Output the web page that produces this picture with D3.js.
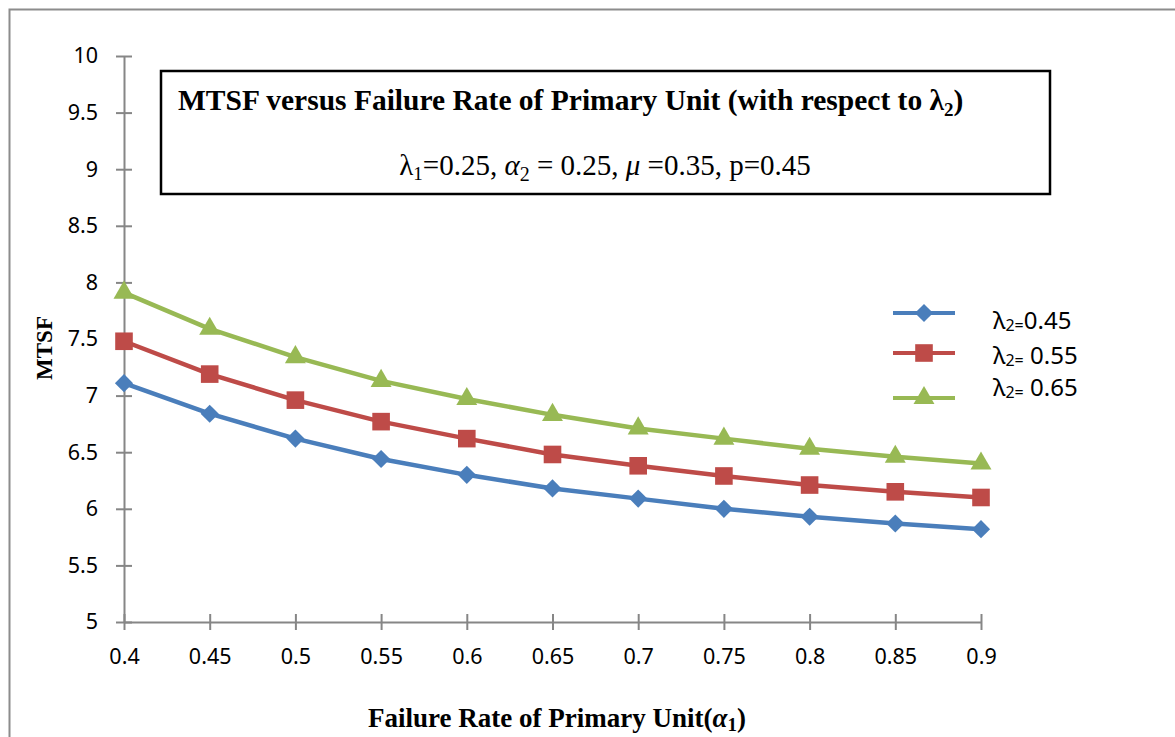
<!DOCTYPE html>
<html lang="en">
<head>
<meta charset="utf-8">
<title>MTSF versus Failure Rate</title>
<script src="https://cdn.jsdelivr.net/npm/d3@7"></script>
<style>
  body { margin: 0; background: #fff; }
  .tick text { font-family: "Noto Sans", "Open Sans", sans-serif; font-size: 21.5px; fill: #000; }
  .serif { font-family: "Liberation Serif", "Times New Roman", serif; }
</style>
</head>
<body>
<script>
// data
var alpha1 = [0.4, 0.45, 0.5, 0.55, 0.6, 0.65, 0.7, 0.75, 0.8, 0.85, 0.9];
var mtsf045 = [7.11, 6.84, 6.62, 6.44, 6.30, 6.18, 6.09, 6.00, 5.93, 5.87, 5.82];
var mtsf055 = [7.48, 7.19, 6.96, 6.77, 6.62, 6.48, 6.38, 6.29, 6.21, 6.15, 6.10];
var mtsf065 = [7.91, 7.59, 7.34, 7.13, 6.97, 6.83, 6.71, 6.62, 6.53, 6.46, 6.40];
var seriesNames = ["0.45", "0.55", "0.65"];
var yTicks = [5, 5.5, 6, 6.5, 7, 7.5, 8, 8.5, 9, 9.5, 10];

var w = 1175, h = 737;
var colors = ["#4A7EBB", "#BE4B48", "#98B954"];
var shapes = ["diamond", "square", "triangle"];
var series = [mtsf045, mtsf055, mtsf065];

var svg = d3.select("body").append("svg")
    .attr("width", w)
    .attr("height", h);

// outer chart frame (cut off at right and bottom)
svg.append("path")
    .attr("d", "M9.5," + (h + 2) + " V9.5 H" + (w + 2))
    .attr("fill", "none")
    .attr("stroke", "#8c8c8c")
    .attr("stroke-width", 2);

var xScale = d3.scaleLinear().domain([0.4, 0.9]).range([124, 981]);
var yScale = d3.scaleLinear().domain([5, 10]).range([622, 56]);

// axes, Excel style: ticks cross the line
var xAxis = svg.append("g")
    .attr("transform", "translate(0,622)")
    .call(d3.axisBottom(xScale).tickValues(alpha1).tickSizeInner(8).tickSizeOuter(0).tickPadding(19).tickFormat(d3.format("")));
xAxis.selectAll(".tick line").attr("y1", -8);

var yAxis = svg.append("g")
    .attr("transform", "translate(124,0)")
    .call(d3.axisLeft(yScale).tickValues(yTicks).tickSizeInner(8).tickSizeOuter(0).tickPadding(18).tickFormat(d3.format("")));
yAxis.selectAll(".tick line").attr("x1", 8);

svg.selectAll(".domain, .tick line").attr("stroke", "#868686").attr("stroke-width", 2);

// marker shapes
function symPath(shape) {
    if (shape === "diamond") return d3.symbol(d3.symbolSquare, 165)();
    if (shape === "square") return d3.symbol(d3.symbolSquare, 310)();
    return d3.symbol(d3.symbolTriangle, 190)();
}
function symRot(shape) { return shape === "diamond" ? " rotate(45)" : ""; }

var line = d3.line()
    .x(function (d, i) { return xScale(alpha1[i]); })
    .y(function (d) { return yScale(d); });

series.forEach(function (vals, k) {
    svg.append("path")
        .attr("d", line(vals))
        .attr("fill", "none")
        .attr("stroke", colors[k])
        .attr("stroke-width", 4.5)
        .attr("stroke-linejoin", "round");

    svg.selectAll(".m" + k)
        .data(vals)
        .enter()
        .append("path")
        .attr("class", "m" + k)
        .attr("d", symPath(shapes[k]))
        .attr("transform", function (d, i) {
            return "translate(" + xScale(alpha1[i]) + "," + yScale(d) + ")" + symRot(shapes[k]);
        })
        .attr("fill", colors[k]);
});

// legend
var legY = [313, 353, 398];
var legTextY = [319, 354, 386];
seriesNames.forEach(function (name, k) {
    svg.append("line")
        .attr("x1", 893).attr("x2", 955)
        .attr("y1", legY[k]).attr("y2", legY[k])
        .attr("stroke", colors[k]).attr("stroke-width", 4);
    svg.append("path")
        .attr("d", symPath(shapes[k]))
        .attr("transform", "translate(924," + legY[k] + ")" + symRot(shapes[k]))
        .attr("fill", colors[k]);
    var t = svg.append("text")
        .attr("x", 993).attr("y", legTextY[k])
        .attr("dominant-baseline", "central")
        .style("font-family", "\"Noto Sans\", sans-serif")
        .style("font-size", "24px");
    t.append("tspan").text("λ");
    t.append("tspan").attr("font-size", "16px").attr("dy", 6).text("2=");
    t.append("tspan").attr("dy", -6).text((k === 0 ? "" : " ") + name);
});

// title box
svg.append("rect")
    .attr("x", 161).attr("y", 71)
    .attr("width", 889).attr("height", 123)
    .attr("fill", "#fff")
    .attr("stroke", "#000")
    .attr("stroke-width", 2.5);

var title = svg.append("text")
    .attr("class", "serif")
    .attr("x", 178).attr("y", 110)
    .style("font-size", "29.5px")
    .style("font-weight", "bold");
title.append("tspan").text("MTSF versus Failure Rate of Primary Unit (with respect to λ");
title.append("tspan").attr("font-size", "19px").attr("dy", 6).text("2");
title.append("tspan").attr("dy", -6).text(")");

var sub = svg.append("text")
    .attr("class", "serif")
    .attr("x", 605).attr("y", 175)
    .attr("text-anchor", "middle")
    .style("font-size", "29px");
sub.append("tspan").text("λ");
sub.append("tspan").attr("font-size", "19px").attr("dy", 5).text("1");
sub.append("tspan").attr("dy", -5).text("=0.25, ");
sub.append("tspan").attr("font-style", "italic").text("α");
sub.append("tspan").attr("font-size", "20px").attr("dy", 6).text("2");
sub.append("tspan").attr("dy", -6).text(" = 0.25, ");
sub.append("tspan").attr("font-style", "italic").text("μ");
sub.append("tspan").text(" =0.35, p=0.45");

// axis titles
svg.append("text")
    .attr("class", "serif")
    .attr("transform", "translate(52,348) rotate(-90)")
    .attr("text-anchor", "middle")
    .style("font-size", "23px")
    .style("font-weight", "bold")
    .text("MTSF");

var xt = svg.append("text")
    .attr("class", "serif")
    .attr("x", 557).attr("y", 727)
    .attr("text-anchor", "middle")
    .style("font-size", "27px")
    .style("font-weight", "bold");
xt.append("tspan").text("Failure Rate of Primary Unit(");
xt.append("tspan").attr("font-style", "italic").text("α");
xt.append("tspan").attr("font-size", "19px").attr("dy", 4).text("1");
xt.append("tspan").attr("dy", -4).text(")");
</script>
</body>
</html>
